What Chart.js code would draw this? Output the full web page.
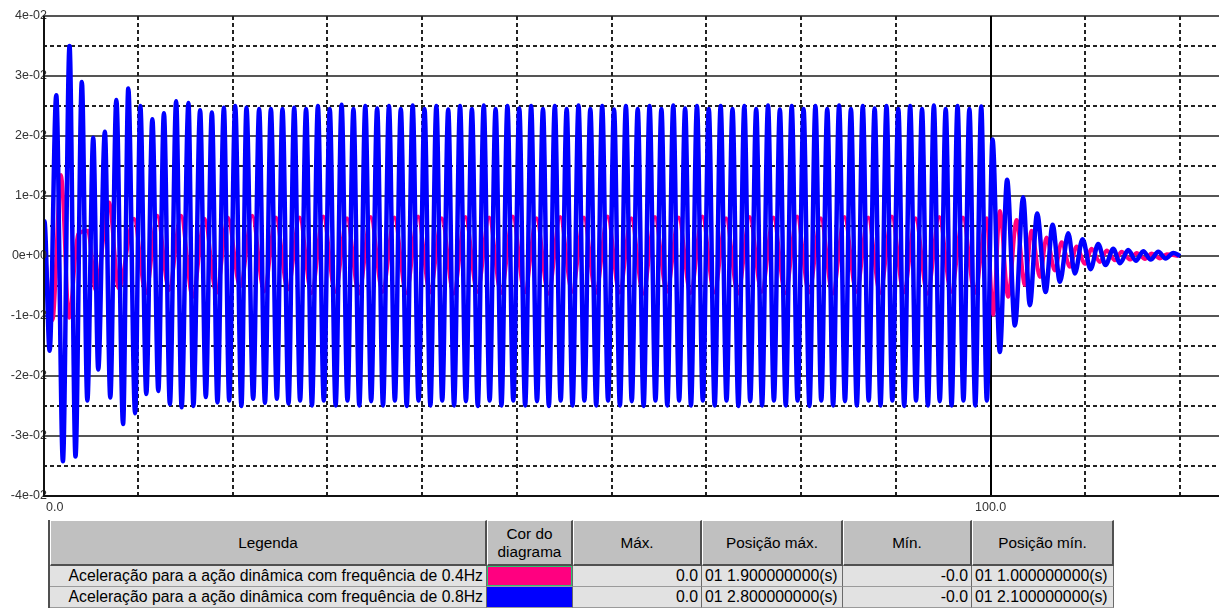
<!DOCTYPE html>
<html>
<head>
<meta charset="utf-8">
<script src="https://cdn.jsdelivr.net/npm/chart.js@4.4.1/dist/chart.umd.min.js"></script>
<style>
    body { margin: 0; background: #fff; width: 1219px; height: 609px; overflow: hidden; position: relative; font-family: "Liberation Sans", Arial, sans-serif; }
    #chart { position: absolute; left: 0; top: 0; }
    table { position: absolute; left: 48px; top: 520px; border-collapse: separate; border-spacing: 0; table-layout: fixed; font-size: 15.8px; color: #000; border-left: 2px solid #505050; }
    th { background: #c0c0c0; font-weight: normal; font-size: 15.3px; height: 43px; padding: 0; line-height: 18px; border-top: 1px solid #fff; border-left: 1px solid #fff; border-right: 2px solid #505050; border-bottom: 2px solid #505050; }
    td { background: #e2e2e2; height: 20px; line-height: 20px; padding: 0 3px; white-space: nowrap; border-right: 1px solid #6a6a6a; border-bottom: 1px solid #9a9a9a; }
    td.r { text-align: right; }
    td.sw { padding: 0; }
</style>
</head>
<body>
<canvas id="chart" width="1219" height="518"></canvas>
<table id="legend"></table>
<script>
// valores em unidades de 1e-02
const SCALE = 1e-2;

// tempo (s), aceleração - frequência 0.4Hz
const pinkSamples = [
    [0, 0.45], [1.0, -1.07], [1.9, 1.35], [2.75, -1.03], [3.7, 0.36], [4.75, 0.42], [5.57, -0.57], [6.97, 0.89],
    [8.0, -0.54], [9.6, 0.62], [10.85, -0.62], [12.07, 0.67], [13.3, -0.57], [14.55, 0.67], [15.8, -0.68], [17.05, 0.62],
    [18.3, -0.62], [19.5, 0.64], [20.8, -0.51], [22.08, 0.67], [23.33, -0.59], [24.58, 0.64], [25.83, -0.56],
    [27.08, 0.64], [28.33, -0.62], [29.58, 0.66], [30.83, -0.60], [32.08, 0.63], [33.33, -0.63], [34.58, 0.65], [35.83, -0.60],
    [37.08, 0.64], [38.33, -0.62], [39.58, 0.66], [40.83, -0.61], [42.08, 0.63], [43.33, -0.63], [44.58, 0.65], [45.83, -0.60],
    [47.08, 0.64], [48.33, -0.62], [49.58, 0.66], [50.83, -0.61], [52.08, 0.63], [53.33, -0.63], [54.58, 0.65], [55.83, -0.60],
    [57.08, 0.64], [58.33, -0.62], [59.58, 0.66], [60.83, -0.61], [62.08, 0.63], [63.33, -0.63], [64.58, 0.65], [65.83, -0.60],
    [67.08, 0.64], [68.33, -0.62], [69.58, 0.66], [70.83, -0.61], [72.08, 0.63], [73.33, -0.63], [74.58, 0.65], [75.83, -0.60],
    [77.08, 0.64], [78.33, -0.62], [79.58, 0.66], [80.83, -0.61], [82.08, 0.63], [83.33, -0.63], [84.58, 0.65], [85.83, -0.60],
    [87.08, 0.64], [88.33, -0.62], [89.58, 0.66], [90.83, -0.61], [92.08, 0.63], [93.33, -0.63], [94.58, 0.65], [95.83, -0.60],
    [97.08, 0.64], [98.33, -0.62], [99.58, 0.63],
    [100.27, -0.98], [100.97, 0.75], [101.85, -0.68], [102.74, 0.60], [103.61, -0.48], [104.32, 0.42], [105.2, -0.35], [105.9, 0.31],
    [106.78, -0.24], [107.49, 0.23], [108.36, -0.18], [109.07, 0.16], [109.95, -0.13], [110.66, 0.12], [111.53, -0.10], [112.24, 0.09],
    [113.12, -0.07], [113.83, 0.07], [114.7, -0.06], [115.41, 0.05], [116.29, -0.05], [117.0, 0.04], [117.87, -0.04], [118.58, 0.03],
    [119.8, 0.0]
];

// tempo (s), aceleração - frequência 0.8Hz
const blueSamples = [
    [0, 0.55], [0.15, 0.58], [0.7, -1.58], [1.4, 2.68], [2.1, -3.42], [2.8, 3.50], [3.43, -3.34], [4.1, 2.90],
    [4.68, -2.41], [5.3, 1.97], [5.83, -1.89], [6.53, 2.07], [7.1, -2.36], [7.74, 2.60], [8.45, -2.80], [9.0, 2.79],
    [9.72, -2.62], [10.27, 2.50], [10.9, -2.30], [11.54, 2.28], [12.17, -2.25], [12.76, 2.38], [13.39, -2.47], [14.05, 2.58],
    [14.63, -2.52], [15.35, 2.55], [15.87, -2.50], [16.58, 2.43], [17.18, -2.35], [17.82, 2.39], [18.41, -2.44], [19.09, 2.47],
    [19.65, -2.41], [20.28, 2.50], [20.94, -2.50], [21.47, 2.47], [22.18, -2.38], [22.81, 2.45], [23.42, -2.45], [24.05, 2.45],
    [24.68, -2.38], [25.27, 2.45], [25.91, -2.46], [26.51, 2.47],
    [27.13, -2.41], [27.76, 2.45], [28.38, -2.49], [29.01, 2.50], [29.63, -2.41], [30.26, 2.45], [30.88, -2.49], [31.51, 2.52],
    [32.13, -2.41], [32.76, 2.45], [33.38, -2.49], [34.01, 2.50], [34.63, -2.42], [35.26, 2.46], [35.88, -2.49], [36.51, 2.50],
    [37.13, -2.41], [37.76, 2.45], [38.38, -2.50], [39.01, 2.51], [39.63, -2.41], [40.26, 2.45], [40.88, -2.49], [41.51, 2.50],
    [42.13, -2.41], [42.76, 2.44], [43.38, -2.49], [44.01, 2.50], [44.63, -2.42], [45.26, 2.45], [45.88, -2.50], [46.51, 2.51],
    [47.13, -2.41], [47.76, 2.45], [48.38, -2.49], [49.01, 2.50], [49.63, -2.41], [50.26, 2.46], [50.88, -2.49], [51.51, 2.50],
    [52.13, -2.42], [52.76, 2.45], [53.38, -2.50], [54.01, 2.50], [54.63, -2.41], [55.26, 2.45], [55.88, -2.49], [56.51, 2.51],
    [57.13, -2.41], [57.76, 2.45], [58.38, -2.49], [59.01, 2.50], [59.63, -2.41], [60.26, 2.44], [60.88, -2.49], [61.51, 2.50],
    [62.13, -2.42], [62.76, 2.45], [63.38, -2.50], [64.01, 2.50], [64.63, -2.41], [65.26, 2.45], [65.88, -2.49], [66.51, 2.51],
    [67.13, -2.41], [67.76, 2.46], [68.38, -2.49], [69.01, 2.50], [69.63, -2.41], [70.26, 2.45], [70.88, -2.49], [71.51, 2.50],
    [72.13, -2.41], [72.76, 2.45], [73.38, -2.50], [74.01, 2.50], [74.63, -2.42], [75.26, 2.45], [75.88, -2.49], [76.51, 2.51],
    [77.13, -2.41], [77.76, 2.44], [78.38, -2.49], [79.01, 2.50], [79.63, -2.41], [80.26, 2.45], [80.88, -2.50], [81.51, 2.50],
    [82.13, -2.41], [82.76, 2.45], [83.38, -2.49], [84.01, 2.51], [84.63, -2.42], [85.26, 2.45], [85.88, -2.49], [86.51, 2.50],
    [87.13, -2.41], [87.76, 2.46], [88.38, -2.49], [89.01, 2.50], [89.63, -2.41], [90.26, 2.45], [90.88, -2.50], [91.51, 2.50],
    [92.13, -2.41], [92.76, 2.45], [93.38, -2.49], [94.01, 2.51], [94.63, -2.42], [95.26, 2.45], [95.88, -2.49], [96.51, 2.50],
    [97.13, -2.41], [97.76, 2.45], [98.38, -2.49], [99.01, 2.49], [99.6, -2.41],
    [100.2, 1.94], [100.97, -1.60], [101.74, 1.27], [102.56, -1.16], [103.43, 0.98], [104.14, -0.82], [104.91, 0.71], [105.8, -0.60],
    [106.54, 0.52], [107.31, -0.43], [108.19, 0.38], [108.89, -0.29], [109.7, 0.28], [110.55, -0.22], [111.35, 0.20], [112.13, -0.15],
    [112.94, 0.12], [113.65, -0.12], [114.52, 0.10], [115.33, -0.08], [116.1, 0.08], [116.89, -0.06], [117.69, 0.07], [118.47, -0.04],
    [119.28, 0.05], [120.0, 0.0]
];

// eixos
const yTicks = [-4, -3, -2, -1, 0, 1, 2, 3, 4];
const yTickLabels = ['-4e-02', '-3e-02', '-2e-02', '-1e-02', '0e+00', '1e-02', '2e-02', '3e-02', '4e-02'];
const xGridTicks = [10, 20, 30, 40, 50, 60, 70, 80, 90, 100, 110, 120];
const xTicks = [0, 100];
const xTickLabels = ['0.0', '100.0'];

// tabela de legenda
const seriesNames = ['Aceleração para a ação dinâmica com frequência de 0.4Hz', 'Aceleração para a ação dinâmica com frequência de 0.8Hz'];
const maxValues = ['0.0', '0.0'];
const maxPositions = ['01 1.900000000(s)', '01 2.800000000(s)'];
const minValues = ['-0.0', '-0.0'];
const minPositions = ['01 1.000000000(s)', '01 2.100000000(s)'];

const PINK = '#ff0080';
const BLUE = '#0000ff';

function toPoints(samples) {
    return samples.map(s => ({ x: s[0], y: s[1] * SCALE }));
}

// grade tracejada / continua e rótulos dos eixos
const axesPlugin = {
    id: 'axesPlugin',
    beforeDatasetsDraw(chart) {
        const { ctx, chartArea: a, scales: { x, y } } = chart;
        ctx.save();
        ctx.lineWidth = 2;
        // linhas horizontais
        yTicks.forEach((v, i) => {
            const py = Math.round(y.getPixelForValue(v * SCALE));
            ctx.setLineDash([]);
            ctx.strokeStyle = '#555';
            ctx.beginPath(); ctx.moveTo(a.left, py); ctx.lineTo(a.right, py); ctx.stroke();
            if (i < yTicks.length - 1) {
                const mid = (v + yTicks[i + 1]) / 2;
                const pm = Math.round(y.getPixelForValue(mid * SCALE));
                ctx.setLineDash([4, 3]);
                ctx.strokeStyle = '#222';
                ctx.beginPath(); ctx.moveTo(a.left, pm); ctx.lineTo(a.right, pm); ctx.stroke();
            }
        });
        // linhas verticais
        xGridTicks.forEach(v => {
            const px = Math.round(x.getPixelForValue(v));
            if (xTicks.includes(v)) {
                ctx.setLineDash([]);
                ctx.strokeStyle = '#000';
            } else {
                ctx.setLineDash([4, 3]);
                ctx.strokeStyle = '#222';
            }
            ctx.beginPath(); ctx.moveTo(px, a.top); ctx.lineTo(px, a.bottom); ctx.stroke();
        });
        ctx.restore();
    },
    afterDatasetsDraw(chart) {
        const { ctx, chartArea: a, scales: { x, y } } = chart;
        ctx.save();
        ctx.font = '12.5px "Liberation Sans", Arial, sans-serif';
        ctx.fillStyle = '#333';
        ctx.textAlign = 'right';
        ctx.textBaseline = 'middle';
        yTicks.forEach((v, i) => {
            ctx.fillText(yTickLabels[i], a.left + 4, y.getPixelForValue(v * SCALE));
        });
        ctx.textBaseline = 'top';
        xTicks.forEach((v, i) => {
            const px = x.getPixelForValue(v);
            ctx.textAlign = i === 0 ? 'left' : 'center';
            ctx.fillText(xTickLabels[i], i === 0 ? px + 3 : px, a.bottom + 5);
        });
        // eixos
        ctx.strokeStyle = '#111';
        ctx.lineWidth = 2;
        ctx.beginPath();
        ctx.moveTo(a.left + 1, a.top);
        ctx.lineTo(a.left + 1, a.bottom);
        ctx.lineTo(a.right, a.bottom);
        ctx.stroke();
        ctx.restore();
    }
};

new Chart(document.getElementById('chart'), {
    type: 'line',
    data: {
        datasets: [{
            label: seriesNames[1],
            data: toPoints(blueSamples),
            borderColor: BLUE,
            borderWidth: 4.5,
            pointRadius: 0,
            cubicInterpolationMode: 'monotone'
        }, {
            label: seriesNames[0],
            data: toPoints(pinkSamples),
            borderColor: PINK,
            borderWidth: 4,
            pointRadius: 0,
            cubicInterpolationMode: 'monotone'
        }]
    },
    options: {
        responsive: false,
        animation: false,
        events: [],
        layout: { padding: { left: 43, top: 16, right: 0, bottom: 22 } },
        plugins: { legend: { display: false }, tooltip: { enabled: false } },
        scales: {
            x: { type: 'linear', display: false, min: 0, max: 124.1 },
            y: { type: 'linear', display: false, min: -4 * SCALE, max: 4 * SCALE }
        }
    },
    plugins: [axesPlugin]
});

// tabela
const table = document.getElementById('legend');
const widths = [437, 86, 129, 141, 129, 142];
let html = '<colgroup>' + widths.map(w => `<col style="width:${w}px">`).join('') + '</colgroup>';
html += '<tr><th>Legenda</th><th>Cor do<br>diagrama</th><th>Máx.</th><th>Posição máx.</th><th>Mín.</th><th>Posição mín.</th></tr>';
const swatches = [PINK, BLUE];
seriesNames.forEach((name, i) => {
    const sw = i === 0
        ? `<div style="height:18px;background:${swatches[i]};border:1px solid #2fbf71;"></div>`
        : `<div style="height:20px;background:${swatches[i]};"></div>`;
    html += `<tr><td class="r">${name}</td><td class="sw">${sw}</td><td class="r">${maxValues[i]}</td>` +
        `<td>${maxPositions[i]}</td><td class="r">${minValues[i]}</td><td>${minPositions[i]}</td></tr>`;
});
table.innerHTML = html;
</script>
</body>
</html>
